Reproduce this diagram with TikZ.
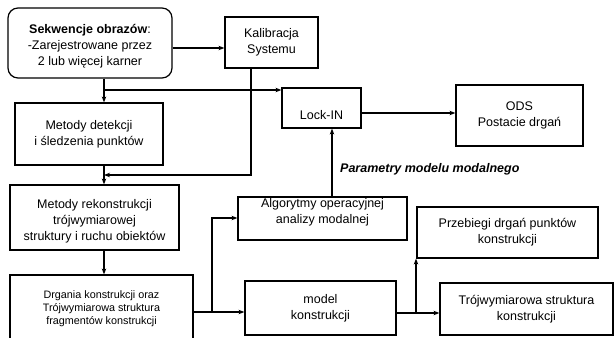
\documentclass[tikz,border=0pt]{standalone}
\usepackage{fontspec}
\setmainfont{Liberation Sans}
\usetikzlibrary{arrows.meta}
\tikzset{
  box/.style={draw, line width=1.2pt, inner sep=0pt, align=center, font=\fontsize{12.5}{16}\selectfont},
  txt/.style={inner sep=0pt, align=center, font=\fontsize{12.5}{16}\selectfont},
  conn/.style={line width=1.2pt, -{Stealth[length=6pt,width=4.5pt]}},
}
\begin{document}
\begin{tikzpicture}[x=1pt,y=-1pt]
\path[use as bounding box, clip] (0,0) rectangle (615,337);
\fill[white] (0,0) rectangle (615,337);
% boxes
\node[box, rounded corners=10pt, minimum width=164pt, minimum height=70pt] (seq) at (90,43) {};
\node[txt] (seqT) at (90,46)
  {\textbf{Sekwencje obrazów}:\\-Zarejestrowane przez\\2 lub więcej karner};
\node[box, minimum width=93pt, minimum height=51pt] (kal) at (271.5,42.5) {Kalibracja\\Systemu};
\node[box, minimum width=79pt, minimum height=40pt] (lock) at (321.5,108) {};
\node[txt] (lockT) at (321.5,115) {Lock-IN};
\node[box, minimum width=127pt, minimum height=61pt] (ods) at (519.5,115.5) {ODS\\Postacie drgań};
\node[box, minimum width=148pt, minimum height=62pt] (det) at (89,134) {Metody detekcji\\i śledzenia punktów};
\node[box, minimum width=169pt, minimum height=65pt] (rek) at (94.5,217.5) {};
\node[txt] (rekT) at (94.5,221) {Metody rekonstrukcji\\trójwymiarowej\\struktury i ruchu obiektów};
\node[box, minimum width=183pt, minimum height=75pt] (drg) at (101.5,312.5) {};
\node[txt, font=\fontsize{10.8}{12.8}\selectfont] (drgT) at (101.5,309)
  {Drgania konstrukcji oraz\\Trójwymiarowa struktura\\fragmentów konstrukcji};
\node[box, minimum width=169pt, minimum height=43pt] (alg) at (322.5,218.5) {};
\node[txt] (algT) at (322.5,212) {Algorytmy operacyjnej\\analizy modalnej};
\node[box, minimum width=151pt, minimum height=54pt] (model) at (320.5,308) {model\\konstrukcji};
\node[box, minimum width=181pt, minimum height=51pt] (prz) at (507.5,232.5) {Przebiegi drgań punktów\\konstrukcji};
\node[box, minimum width=173pt, minimum height=52pt] (tro) at (526.5,309) {Trójwymiarowa struktura\\konstrukcji};
\node[txt, anchor=west, font=\fontsize{12.5}{16}\selectfont\bfseries\itshape] (par) at (340,169) {Parametry modelu modalnego};
% helper coordinates
\coordinate (j1) at (104,90);
\coordinate (k1) at (251,175);
\coordinate (k2) at (104,175);
\coordinate (j2) at (212,312);
\coordinate (j3) at (212,218);
\coordinate (j4) at (416,313);
% connectors
\draw[conn] (seq.east |- 0,48) -- (kal.west |- 0,48);
\draw[conn] (seq.south -| j1) -- (det.north -| j1);
\draw[conn] (j1) -- (lock.west |- j1);
\draw[conn] (kal.south -| k1) -- (k1) -- (k2);
\draw[conn] (det.south -| j1) -- (rek.north -| j1);
\draw[conn] (rek.south -| j1) -- (drg.north -| j1);
\draw[conn] (drg.east |- j2) -- (model.west |- j2);
\draw[conn] (j2) -- (j3) -- (alg.west |- j3);
\draw[conn] (alg.north -| 332,0) -- (lock.south -| 332,0);
\draw[conn] (lock.east |- 0,113) -- (ods.west |- 0,113);
\draw[conn] (model.east |- j4) -- (tro.west |- j4);
\draw[conn] (j4) -- (prz.south -| j4);
\end{tikzpicture}
\end{document}
